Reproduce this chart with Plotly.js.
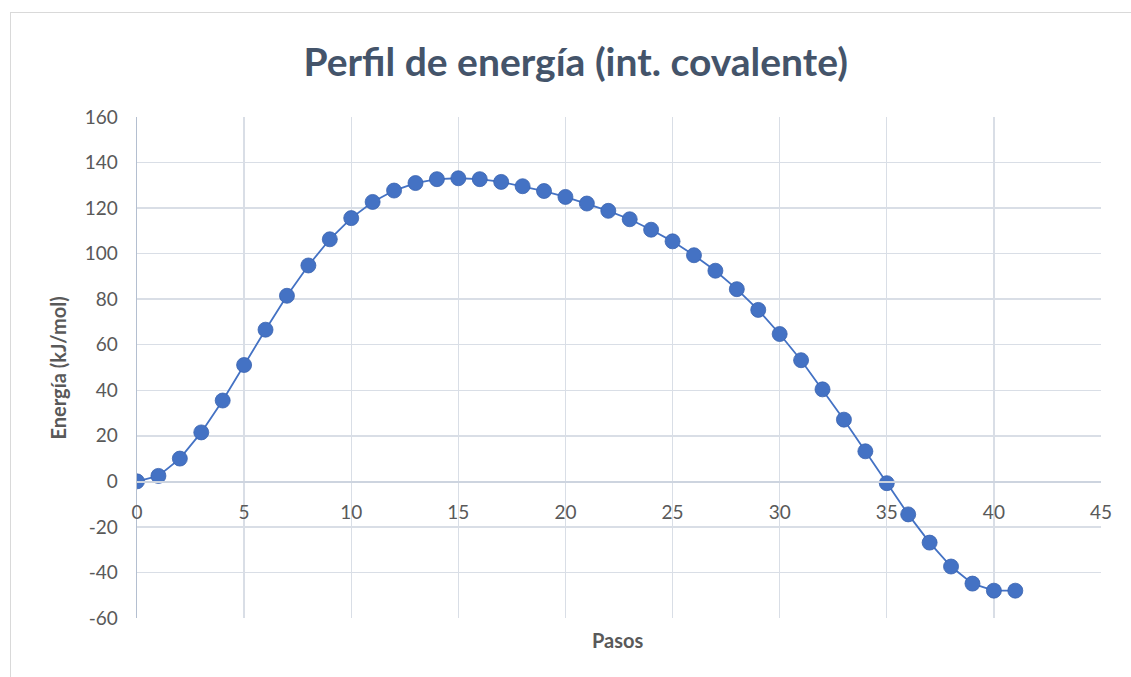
<!DOCTYPE html>
<html>
<head>
<meta charset="utf-8">
<script src="https://cdn.plot.ly/plotly-3.0.1.min.js"></script>
<style>
  html, body { margin: 0; padding: 0; background: #ffffff; overflow: hidden; }
  #frame { position: absolute; left: 10px; top: 12px; width: 1200px; height: 800px; border: 1px solid #d9d9d9; box-sizing: border-box; }
  #chart { position: absolute; left: 0; top: 0; width: 1131px; height: 677px; }
</style>
</head>
<body>
<div id="frame"></div>
<div id="chart"></div>
<script>
const pasos = [0,1,2,3,4,5,6,7,8,9,10,11,12,13,14,15,16,17,18,19,20,21,22,23,24,25,26,27,28,29,30,31,32,33,34,35,36,37,38,39,40,41];
const energia = [0, 2.4, 10, 21.5, 35.5, 51.1, 66.6, 81.5, 94.8, 106.3, 115.6, 122.7, 127.7, 131, 132.7, 133.1,
                 132.7, 131.5, 129.6, 127.5, 124.9, 122, 118.8, 115.1, 110.5, 105.4, 99.3, 92.5, 84.4, 75.3,
                 64.7, 53.2, 40.4, 27.1, 13.2, -0.8, -14.5, -26.9, -37.4, -44.9, -48, -48];
const xTicks = [0,5,10,15,20,25,30,35,40,45];
const yTicks = [-60,-40,-20,0,20,40,60,80,100,120,140,160];

const font = 'Lato, "Open Sans", sans-serif';
const blue = '#4472c4';

const trace = {
  x: pasos, y: energia, type: 'scatter', mode: 'lines+markers',
  line: { color: blue, width: 1.8 },
  marker: { color: blue, size: 15, line: { color: '#3a63b0', width: 0.8 } },
  hoverinfo: 'x+y'
};

const layout = {
  width: 1131, height: 677,
  margin: { l: 137, r: 30, t: 117, b: 59 },
  paper_bgcolor: 'rgba(0,0,0,0)', plot_bgcolor: 'rgba(0,0,0,0)',
  showlegend: false,
  title: { text: 'Perfil de energía (int. covalente)', x: 0.509, xanchor: 'center', y: 1 - 62/677, yanchor: 'middle',
           font: { family: font, size: 39, color: '#44546a', weight: 'bold' } },
  xaxis: {
    range: [0, 45], tickvals: xTicks, ticktext: xTicks.map(String),
    showgrid: true, gridcolor: '#d9dee6', gridwidth: 1.4,
    zeroline: false, showline: true, linecolor: '#cdd4df', linewidth: 1.4,
    anchor: 'free', position: 60/220,
    ticks: '', ticklabelstandoff: 13,
    tickfont: { family: font, size: 19, color: '#595959' }
  },
  yaxis: {
    range: [-60, 160], tickvals: yTicks, ticktext: yTicks.map(String),
    showgrid: true, gridcolor: '#d9dee6', gridwidth: 1.4,
    zeroline: false, showline: true, linecolor: '#b4bfd0', linewidth: 1.4,
    ticks: '', ticklabelstandoff: 14,
    tickfont: { family: font, size: 19, color: '#595959' }
  },
  annotations: [
    { text: '<b>Pasos</b>', xref: 'paper', yref: 'paper', x: 0.499, y: -22/501, xanchor: 'center', yanchor: 'middle',
      showarrow: false, font: { family: font, size: 20, color: '#595959' } },
    { text: '<b>Energía (kJ/mol)</b>', xref: 'paper', yref: 'paper', x: -79/964, y: 0.498, xanchor: 'center', yanchor: 'middle',
      textangle: -90, showarrow: false, font: { family: font, size: 20, color: '#595959' } }
  ]
};

Plotly.newPlot('chart', [trace], layout, { displayModeBar: false, staticPlot: true });
</script>
</body>
</html>
